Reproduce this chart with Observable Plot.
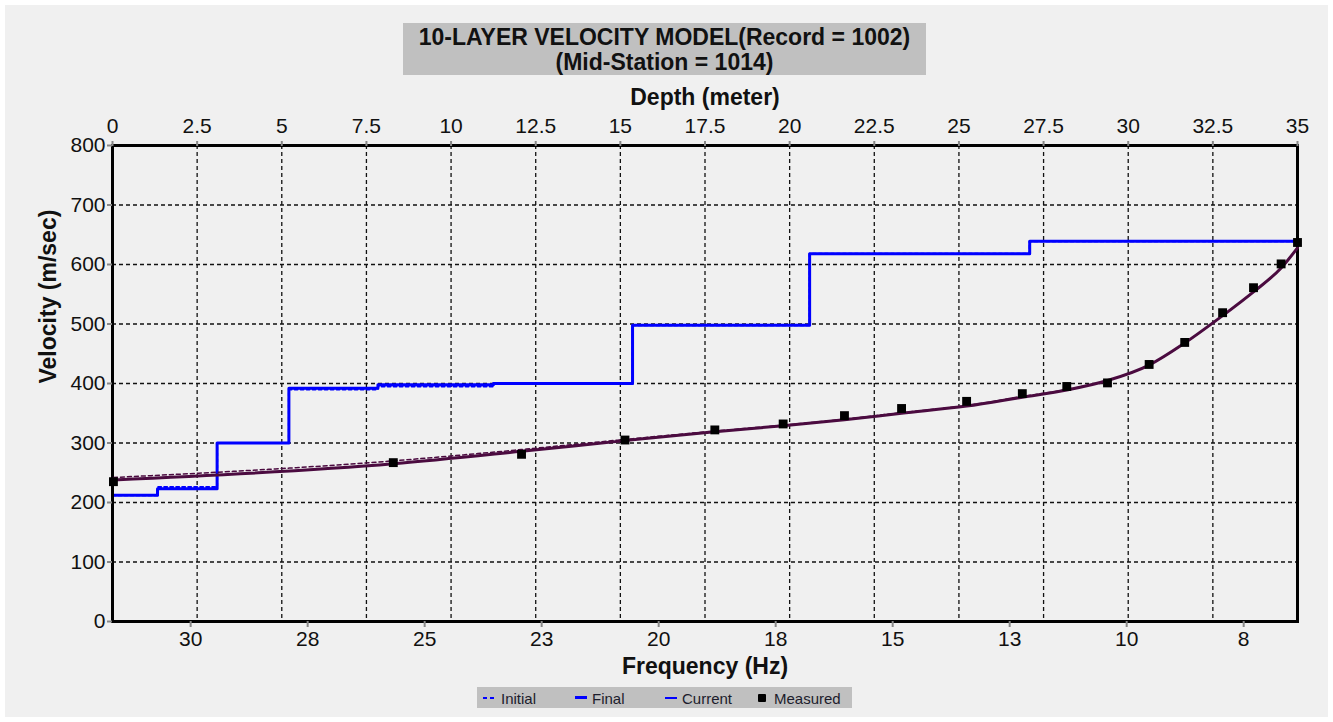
<!DOCTYPE html>
<html>
<head>
<meta charset="utf-8">
<script src="https://cdn.jsdelivr.net/npm/d3@7"></script>
<script src="https://cdn.jsdelivr.net/npm/@observablehq/plot@0.6"></script>
<style>
  html, body { margin: 0; padding: 0; background: #ffffff; }
  body { width: 1333px; height: 722px; position: relative; overflow: hidden; font-family: Arial, "Liberation Sans", sans-serif; }
  #panel { position: absolute; left: 5px; top: 5px; width: 1323px; height: 712px; background: #f0f0f0; }
  #title { position: absolute; left: 403px; top: 23px; width: 523px; height: 52px; background: #c0c0c0;
           text-align: center; font-weight: bold; font-size: 23px; line-height: 25px; padding-top: 2px;
           box-sizing: border-box; color: #111; }
  .layer { position: absolute; left: 0; top: 80px; }
  #legend { position: absolute; left: 477px; top: 687px; width: 375px; height: 21px; background: #c0c0c0;
            font-size: 15px; color: #1c1c2c; }
  #legend span { position: absolute; top: 1px; line-height: 21px; white-space: nowrap; }
  #legend i { position: absolute; display: block; }
</style>
</head>
<body>
<div id="panel"></div>
<div id="title">10-LAYER VELOCITY MODEL(Record = 1002)<br>(Mid-Station = 1014)</div>
<div id="chartA" class="layer"></div>
<div id="chartB" class="layer"></div>
<div id="legend">
  <i style="left:6px;top:10px;width:4px;height:2px;background:#0000ff"></i>
  <i style="left:13px;top:10px;width:4px;height:2px;background:#0000ff"></i>
  <span style="left:24px">Initial</span>
  <i style="left:98px;top:9px;width:12px;height:3px;background:#0000ff"></i>
  <span style="left:115px">Final</span>
  <i style="left:188px;top:10px;width:12px;height:1.5px;background:#0000ff"></i>
  <span style="left:205px">Current</span>
  <i style="left:281px;top:7px;width:8px;height:8px;background:#000;border-radius:1px"></i>
  <span style="left:297px">Measured</span>
</div>
<script>
// ---- Velocity model (top axis: depth) ----
const layerTopDepth = [0, 1.33, 3.09, 5.21, 7.84, 11.25, 15.36, 20.59, 27.09];
const finalVel      = [212, 223, 300, 392, 398, 400, 498, 618, 639];
const initialVel    = [212, 226, 300, 390, 395, 400, 498, 618, 639];
const currentVel    = [212, 223, 300, 392, 398, 400, 498, 618, 639];
const maxDepth = 35;

// ---- Dispersion curve (bottom axis: frequency) ----
const freqHz          = [31.9, 25.92, 23.18, 20.97, 19.05, 17.59, 16.28, 15.06, 13.67, 12.48, 11.53, 10.66, 9.77, 9.01, 8.20, 7.54, 6.95, 6.60];
const measuredPhaseV  = [235, 267, 281, 305, 322, 332, 346, 358, 370, 383, 395, 401, 432, 469, 519, 561, 601, 637];
const currentPhaseV   = [238, 265, 286, 304, 319, 329, 339, 350, 362, 377, 389, 405, 431, 468, 514, 554, 594, 628];
const initialPhaseV   = [242, 270, 289, 306, 320, 330, 340, 351, 363, 378, 390, 405, 431, 468, 514, 554, 594, 628];

// ---- Axes ----
const depthTicks = [0, 2.5, 5, 7.5, 10, 12.5, 15, 17.5, 20, 22.5, 25, 27.5, 30, 32.5, 35];
const depthTickLabels = ["0", "2.5", "5", "7.5", "10", "12.5", "15", "17.5", "20", "22.5", "25", "27.5", "30", "32.5", "35"];
const velTicks = [0, 100, 200, 300, 400, 500, 600, 700, 800];
const velTickLabels = ["0", "100", "200", "300", "400", "500", "600", "700", "800"];
const freqTicks = [30.25, 27.75, 25.25, 22.75, 20.25, 17.75, 15.25, 12.75, 10.25, 7.75];
const freqTickLabels = ["30", "28", "25", "23", "20", "18", "15", "13", "10", "8"];
const freqDomain = [31.92, 6.6];

const blue = "#0000ff";
const purple = "#4b0b40";
const gridStyle = {stroke: "#111", strokeOpacity: 1, strokeWidth: 1.3, strokeDasharray: "4,3"};

const common = {
  width: 1333, height: 600,
  marginLeft: 112, marginRight: 36, marginTop: 65, marginBottom: 59,
  style: {background: "transparent", fontFamily: "Arial, 'Liberation Sans', sans-serif", fontSize: "21px", color: "#111", overflow: "visible"}
};

const model = layerTopDepth.map((d, i) => ({depth: d, final: finalVel[i], initial: initialVel[i], current: currentVel[i]}));
model.push({depth: maxDepth, final: finalVel[finalVel.length - 1], initial: initialVel[initialVel.length - 1], current: currentVel[currentVel.length - 1]});

const plotA = Plot.plot({
  ...common,
  x: {domain: [0, maxDepth], axis: null},
  y: {domain: [0, 800], axis: null},
  marks: [
    Plot.gridX(depthTicks.slice(1, -1), gridStyle),
    Plot.gridY(velTicks.slice(1, -1), gridStyle),
    Plot.line(model, {x: "depth", y: "initial", curve: "step-after", stroke: blue, strokeWidth: 2, strokeDasharray: "3,3"}),
    Plot.line(model, {x: "depth", y: "final", curve: "step-after", stroke: blue, strokeWidth: 3}),
    Plot.line(model, {x: "depth", y: "current", curve: "step-after", stroke: blue, strokeWidth: 1}),
    Plot.frame({stroke: "#000", strokeWidth: 3}),
    Plot.axisX(depthTicks, {anchor: "top", tickSize: 5, tickPadding: 8, stroke: "#888", strokeWidth: 2, label: null,
      tickFormat: d => depthTickLabels[depthTicks.indexOf(d)]}),
    Plot.axisY(velTicks, {anchor: "left", tickSize: 5, tickPadding: 2, stroke: "#888", strokeWidth: 2, label: null,
      tickFormat: d => velTickLabels[velTicks.indexOf(d)]}),
    Plot.text(["Depth (meter)"], {text: d => d, frameAnchor: "top", dy: -41, lineAnchor: "bottom", fontSize: 23, fontWeight: "bold", fill: "#111"}),
    Plot.text(["Velocity (m/sec)"], {text: d => d, frameAnchor: "left", rotate: -90, dx: -57, lineAnchor: "bottom", fontSize: 23, fontWeight: "bold", fill: "#111"})
  ]
});
document.getElementById("chartA").append(plotA);

const disp = freqHz.map((f, i) => ({f, measured: measuredPhaseV[i], current: currentPhaseV[i], initial: initialPhaseV[i]}));

const plotB = Plot.plot({
  ...common,
  x: {domain: freqDomain, axis: null},
  y: {domain: [0, 800], axis: null},
  marks: [
    Plot.line(disp, {x: "f", y: "initial", curve: "monotone-x", stroke: purple, strokeWidth: 1.5, strokeDasharray: "4,3"}),
    Plot.line(disp, {x: "f", y: "current", curve: "monotone-x", stroke: purple, strokeWidth: 3}),
    Plot.dot(disp, {x: "f", y: "measured", symbol: "square", r: 5, fill: "#000"}),
    Plot.axisX(freqTicks, {anchor: "bottom", tickSize: 6, tickPadding: 4, stroke: "#888", strokeWidth: 2, label: null,
      tickFormat: d => freqTickLabels[freqTicks.indexOf(d)]}),
    Plot.text(["Frequency (Hz)"], {text: d => d, frameAnchor: "bottom", dy: 52, lineAnchor: "bottom", fontSize: 23, fontWeight: "bold", fill: "#111"})
  ]
});
document.getElementById("chartB").append(plotB);
</script>
</body>
</html>
